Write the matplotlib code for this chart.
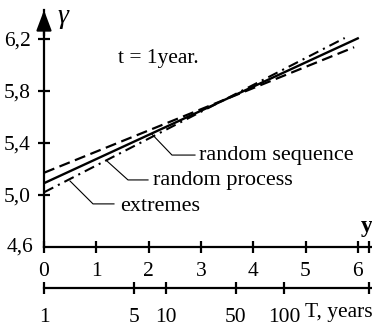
import matplotlib.pyplot as plt
from matplotlib.transforms import ScaledTranslation

plt.rcParams['font.family'] = ['Liberation Serif', 'DejaVu Serif']
plt.rcParams['font.size'] = 15.5

# reduced variate y on the horizontal axis
y_ends_seq = [0.0, 5.93]
gamma_seq = [5.17, 6.134]        # random sequence (dashed)
y_ends_proc = [0.0, 6.02]
gamma_proc = [5.09, 6.206]       # random process (solid)
y_ends_ext = [0.0, 5.75]
gamma_ext = [5.02, 6.205]        # extremes (dash-dot)

y_ticks = [0, 1, 2, 3, 4, 5, 6]
gamma_ticks = [4.6, 5.0, 5.4, 5.8, 6.2]
gamma_labels = ['4,6', '5,0', '5,4', '5,8', '6,2']

# return period scale (T, years) placed against y
T_labels = ['1', '5', '10', '50', '100']
T_pos = [0.0, 1.72, 2.33, 3.67, 4.59]

W, H = 372, 326
fig = plt.figure(figsize=(W / 100, H / 100), dpi=100)
fig.patch.set_facecolor('white')

x0, px_unit = 44, 52.3
xmax = (W - x0) / px_unit
ax = fig.add_axes([x0 / W, (H - 247) / H, (W - x0) / W, 237 / H])
ax.set_xlim(0, xmax)
ax.set_ylim(4.6, 6.42)

for s in ['top', 'right']:
    ax.spines[s].set_visible(False)
for s in ['left', 'bottom']:
    ax.spines[s].set_linewidth(1.6)

ax.set_xticks(y_ticks + [6.22])
ax.set_xticklabels([str(v) for v in y_ticks] + [''])
ax.set_yticks(gamma_ticks[1:])
ax.set_yticklabels(gamma_labels[1:])
ax.tick_params(direction='inout', length=9, width=1.6, pad=5)
ax.tick_params(axis='x', pad=6)
ax.text(-0.2, 4.6, gamma_labels[0], ha='right', va='center')

# arrow on gamma axis
ax.annotate('', xy=(0, 6.44), xytext=(0, 6.2),
            arrowprops=dict(arrowstyle='-|>,head_width=0.3,head_length=0.8',
                            color='black', lw=1.6), annotation_clip=False)
ax.text(0.25, 6.37, 'γ', fontstyle='italic', fontsize=20, ha='left', va='center')
ax.text(6.05, 4.76, 'y', fontweight='bold', fontsize=17, ha='left', va='center')

ax.plot(y_ends_proc, gamma_proc, color='black', lw=1.7, solid_capstyle='butt')
ax.plot(y_ends_seq, gamma_seq, color='black', lw=1.6, dashes=(5, 2.5))
ax.plot(y_ends_ext, gamma_ext, color='black', lw=1.5, dashes=(5, 2.5, 1, 2.5))

ax.text(1.415, 6.047, 't = 1year.', ha='left', va='center')

# leader lines to curve labels
lead = dict(color='black', lw=0.8)
ax.plot([2.065, 2.447, 2.887], [5.466, 5.306, 5.306], **lead)
ax.text(2.97, 5.306, 'random sequence', ha='left', va='center', fontsize=16)
ax.plot([1.205, 1.606, 1.989], [5.26, 5.115, 5.115], **lead)
ax.text(2.08, 5.107, 'random process', ha='left', va='center', fontsize=16)
ax.plot([0.497, 0.937, 1.338], [5.107, 4.931, 4.931], **lead)
ax.text(1.45, 4.908, 'extremes', ha='left', va='center', fontsize=16)

# second horizontal scale: return period
ax2 = fig.add_axes([x0 / W, (H - 288) / H, (W - x0) / W, 0.001])
ax2.set_xlim(0, xmax)
ax2.set_yticks([])
for s in ['top', 'right', 'left']:
    ax2.spines[s].set_visible(False)
ax2.spines['bottom'].set_linewidth(1.6)
ax2.patch.set_visible(False)
ax2.set_xticks(T_pos + [6.22])
ax2.set_xticklabels(T_labels + [''])
ax2.tick_params(direction='inout', length=9, width=1.6, pad=10)
offset = ScaledTranslation(0, -18 / 72, fig.dpi_scale_trans)
ax2.text(4.99, 0, 'T, years', ha='left', va='center',
         transform=ax2.get_xaxis_transform() + offset)

fig.savefig('out.png', dpi=100)
